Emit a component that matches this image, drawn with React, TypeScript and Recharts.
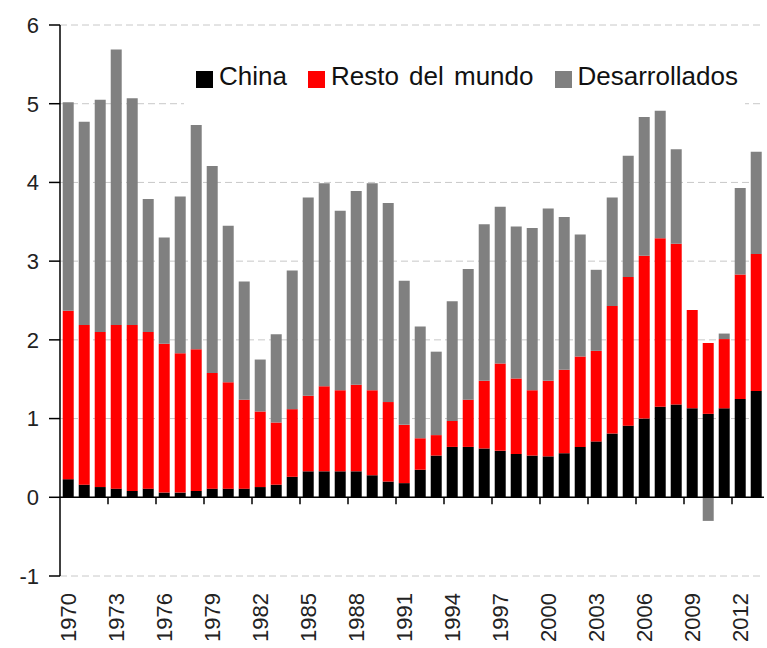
import { BarChart, Bar, XAxis, YAxis, CartesianGrid, ReferenceLine, Legend } from 'recharts'

// Aportación al crecimiento mundial (pp), 1970-2013
const years = [
  '1970', '1971', '1972', '1973', '1974', '1975', '1976', '1977', '1978', '1979',
  '1980', '1981', '1982', '1983', '1984', '1985', '1986', '1987', '1988', '1989',
  '1990', '1991', '1992', '1993', '1994', '1995', '1996', '1997', '1998', '1999',
  '2000', '2001', '2002', '2003', '2004', '2005', '2006', '2007', '2008', '2009',
  '2010', '2011', '2012', '2013',
]

const china = [
  0.23, 0.16, 0.13, 0.11, 0.08, 0.11, 0.06, 0.06, 0.08, 0.11,
  0.11, 0.11, 0.13, 0.16, 0.26, 0.33, 0.33, 0.33, 0.33, 0.28,
  0.2, 0.18, 0.35, 0.53, 0.64, 0.64, 0.62, 0.59, 0.55, 0.53,
  0.52, 0.56, 0.64, 0.71, 0.81, 0.91, 1.0, 1.15, 1.18, 1.13,
  1.06, 1.13, 1.25, 1.35,
]

const restoDelMundo = [
  2.14, 2.03, 1.97, 2.08, 2.11, 1.99, 1.89, 1.77, 1.8, 1.47,
  1.35, 1.13, 0.96, 0.79, 0.86, 0.96, 1.08, 1.03, 1.1, 1.08,
  1.01, 0.74, 0.4, 0.26, 0.33, 0.6, 0.86, 1.11, 0.96, 0.83,
  0.96, 1.06, 1.15, 1.15, 1.62, 1.89, 2.07, 2.14, 2.04, 1.25,
  0.9, 0.88, 1.58, 1.74,
]

const desarrollados = [
  2.65, 2.58, 2.95, 3.5, 2.88, 1.69, 1.35, 1.99, 2.85, 2.63,
  1.99, 1.5, 0.66, 1.12, 1.76, 2.52, 2.58, 2.28, 2.46, 2.63,
  2.53, 1.83, 1.42, 1.06, 1.52, 1.66, 1.99, 1.99, 1.93, 2.06,
  2.19, 1.94, 1.55, 1.03, 1.38, 1.54, 1.76, 1.62, 1.2, 0,
  -0.3, 0.07, 1.1, 1.3,
]

const yTicks = [-1, 0, 1, 2, 3, 4, 5, 6]

const series = [
  { key: 'china', name: 'China', color: '#000000' },
  { key: 'resto', name: 'Resto del mundo', color: '#ff0000' },
  { key: 'desarrollados', name: 'Desarrollados', color: '#808080' },
]

const data = years.map((year, i) => ({
  year,
  china: china[i],
  resto: restoDelMundo[i],
  desarrollados: desarrollados[i],
}))

const FONT = '"Liberation Sans", Arial, sans-serif'

function YearTick({ x, y, payload }: any) {
  return (
    <text
      x={0}
      y={0}
      dy="0.35em"
      textAnchor="end"
      transform={`translate(${x},${y}) rotate(-90)`}
      fontSize={22}
      fontFamily={FONT}
      fill="#222"
    >
      {payload.value}
    </text>
  )
}

// eje horizontal en y = 0, con marcas cada 3 años entre categorías
function ZeroAxis({ x1, y1, x2 }: any) {
  const band = (x2 - x1) / years.length
  const marks = years.map((_, i) => i).filter((i) => i > 0 && i % 3 === 0)
  return (
    <g>
      <line x1={x1} y1={y1} x2={x2} y2={y1} stroke="#000" strokeWidth={1.5} />
      {marks.map((i) => (
        <line key={i} x1={x1 + i * band} y1={y1} x2={x1 + i * band} y2={y1 + 7} stroke="#000" strokeWidth={1.5} />
      ))}
    </g>
  )
}

function LegendBox() {
  return (
    <div
      style={{
        display: 'flex',
        alignItems: 'center',
        height: '100%',
        paddingLeft: 12,
        paddingBottom: 3,
        boxSizing: 'border-box',
        fontFamily: FONT,
        fontSize: 26,
        wordSpacing: 3,
        whiteSpace: 'nowrap',
        color: '#111',
      }}
    >
      {series.map((s) => (
        <div key={s.key} style={{ display: 'flex', alignItems: 'center', marginRight: 21, flexShrink: 0 }}>
          <span
            style={{
              display: 'inline-block',
              width: 17,
              height: 17,
              background: s.color,
              marginRight: 6,
              transform: 'translateY(3px)',
            }}
          />
          <span>{s.name}</span>
        </div>
      ))}
    </div>
  )
}

export default function App() {
  return (
    <div style={{ position: 'absolute', left: 0, top: 0, background: '#fff' }}>
      <BarChart
        width={767}
        height={648}
        data={data}
        stackOffset="sign"
        barCategoryGap="17%"
        margin={{ top: 25, right: 3, left: 0, bottom: 0 }}
      >
        <CartesianGrid vertical={false} stroke="#c8c8c8" strokeDasharray="7 4" />
        <XAxis
          dataKey="year"
          interval={2}
          height={72}
          axisLine={false}
          tickLine={false}
          tickSize={0}
          tickMargin={17}
          tick={<YearTick />}
        />
        <YAxis
          domain={[-1, 6]}
          ticks={yTicks}
          width={60}
          axisLine={{ stroke: '#000', strokeWidth: 1.5 }}
          tickLine={{ stroke: '#000', strokeWidth: 1.5 }}
          tickSize={11}
          tickMargin={10}
          tick={{ fontSize: 22, fill: '#222', fontFamily: FONT }}
        />
        {series.map((s) => (
          <Bar key={s.key} dataKey={s.key} name={s.name} stackId="a" fill={s.color} isAnimationActive={false} />
        ))}
        <ReferenceLine y={0} shape={<ZeroAxis />} />
        <Legend
          layout="horizontal"
          verticalAlign="middle"
          align="center"
          content={<LegendBox />}
          wrapperStyle={{ position: 'absolute', left: 184, top: 50, width: 561, height: 56, background: '#fff' }}
        />
      </BarChart>
    </div>
  )
}
